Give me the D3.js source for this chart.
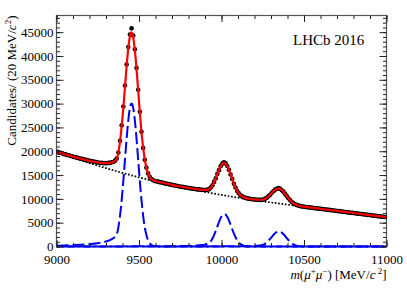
<!DOCTYPE html>
<html>
<head>
<meta charset="utf-8">
<script src="https://cdn.jsdelivr.net/npm/d3@7"></script>
<style>
  body { margin: 0; background: #fff; }
  text { font-family: "Liberation Serif", "Times New Roman", serif; }
</style>
</head>
<body>
<div id="chart"></div>
<script>
// dimuon mass spectrum, LHCb 2016

// data points (10 MeV bins, 9005 ... 10995)
const binCenters = d3.range(9005, 11000, 10);
const counts = [
  19880, 19700, 19690, 19560, 19390, 19350, 19200, 19160, 18990, 18950,
  18800, 18770, 18610, 18580, 18420, 18400, 18250, 18230, 18090, 18060,
  17930, 17920, 17790, 17770, 17650, 17640, 17540, 17560, 17480, 17510,
  17470, 17560, 17550, 17680, 17740, 18020, 18450, 19750, 22200, 25450,
  29400, 33800, 38200, 41900, 44500, 45800, 44300, 41400, 37500, 32900,
  28300, 24100, 20700, 18200, 16550, 15350, 14660, 14180, 13950, 13760,
  13680, 13630, 13510, 13470, 13350, 13300, 13190, 13150, 13040, 12990,
  12880, 12850, 12740, 12710, 12600, 12550, 12510, 12420, 12400, 12310,
  12250, 12230, 12140, 12120, 12030, 12000, 12000, 11930, 11930, 11870,
  11850, 11940, 12030, 12400, 12850, 13560, 14300, 15240, 16030, 16870,
  17400, 17700, 17450, 16900, 16100, 15130, 14190, 13180, 12380, 11660,
  11170, 10750, 10530, 10320, 10230, 10100, 10060, 9970, 9950, 9870,
  9880, 9820, 9830, 9780, 9830, 9860, 10050, 10240, 10570, 10880,
  11290, 11600, 11950, 12100, 12260, 12120, 11820, 11520, 11040, 10620,
  10120, 9760, 9370, 9130, 8870, 8740, 8590, 8530, 8420, 8390,
  8310, 8300, 8210, 8220, 8130, 8120, 8040, 8040, 7950, 7950,
  7870, 7860, 7780, 7770, 7690, 7680, 7600, 7600, 7510, 7510,
  7430, 7420, 7340, 7330, 7250, 7240, 7160, 7150, 7070, 7060,
  6990, 6980, 6900, 6890, 6810, 6800, 6720, 6710, 6630, 6620,
  6550, 6530, 6460, 6450, 6370, 6360, 6280, 6270, 6190, 6180
];

// total fit (red)
const fitMass = [9000, 9050, 9100, 9150, 9200, 9250, 9280,
  9300, 9310, 9320, 9330, 9340, 9350, 9360, 9370, 9380, 9390, 9400, 9410, 9420, 9430, 9440, 9450,
  9455,
  9460, 9470, 9480, 9490, 9500, 9510, 9520, 9530, 9540, 9550, 9560, 9570, 9580, 9590, 9600,
  9650, 9700, 9750, 9800, 9850,
  9900, 9910, 9920, 9930, 9940, 9950, 9960, 9970, 9980, 9990, 10000, 10010,
  10017,
  10020, 10030, 10040, 10050, 10060, 10070, 10080, 10090, 10100, 10110, 10120, 10130,
  10150, 10170, 10190,
  10200, 10210, 10220, 10230, 10240, 10250, 10260, 10270, 10280, 10290, 10300, 10310, 10320, 10330, 10340,
  10347,
  10350, 10360, 10370, 10380, 10390, 10400, 10410, 10420, 10430, 10440, 10450, 10460, 10470, 10480, 10490,
  10500, 10600, 10700, 10800, 10900, 11000];
const fitValues = [19900, 19380, 18870, 18415, 17990, 17650, 17520,
  17490, 17510, 17550, 17610, 17700, 17850, 18150, 18890, 20820, 23560, 27110, 31290, 35720, 39850, 43040, 44760,
  44940,
  44660, 42760, 39390, 35070, 30450, 26090, 22360, 19430, 17310, 15880, 14960, 14390, 14050, 13840, 13740,
  13330, 12940, 12590, 12300, 12030,
  11870, 11890, 11950, 12160, 12590, 13170, 13910, 14760, 15650, 16470, 17160, 17530,
  17580,
  17550, 17200, 16550, 15660, 14660, 13670, 12750, 11980, 11380, 10930, 10620, 10400,
  10150, 10020, 9910,
  9880, 9860, 9830, 9810, 9800, 9830, 9930, 10130, 10390, 10710, 11080, 11450, 11790, 12050, 12180,
  12190,
  12160, 12000, 11690, 11290, 10830, 10360, 9930, 9550, 9230, 8990, 8800, 8660, 8560, 8480, 8410,
  8360, 7910, 7470, 7030, 6590, 6150];

// combinatorial background (dotted)
const bkgMass = [9000, 9100, 9200, 9300, 9400, 9500, 9600, 9700, 9800, 9900, 10000,
  10100, 10200, 10300, 10400, 10500, 10600, 10700, 10800, 10900, 11000];
const bkgValues = [19720, 18580, 17490, 16450, 15450, 14520, 13650, 12850, 12120, 11450, 10830,
  10260, 9740, 9250, 8790, 8350, 7910, 7470, 7030, 6590, 6150];

// signal components (blue dashed)
const ups1Mass = [9000, 9050, 9100, 9150, 9200, 9250, 9280,
  9300, 9310, 9320, 9330, 9340, 9350, 9360, 9370, 9380, 9390, 9400, 9410, 9420, 9430, 9440, 9450,
  9455,
  9460, 9470, 9480, 9490, 9500, 9510, 9520, 9530, 9540, 9550, 9560, 9570, 9580, 9590,
  9600, 9620, 9650, 11000];
const ups1Values = [180, 230, 290, 380, 500, 680, 860,
  1040, 1160, 1300, 1460, 1650, 1900, 2300, 3140, 5170, 8010, 11660, 15930, 20460, 24680, 27960, 29770,
  30000,
  29770, 27960, 24680, 20460, 15930, 11660, 8010, 5170, 3140, 1790, 957, 481, 227, 101,
  42, 6, 0, 0];

const ups2Mass = [9000, 9400, 9600, 9750, 9850,
  9900, 9910, 9920, 9930, 9940, 9950, 9960, 9970, 9980, 9990, 10000, 10010,
  10017,
  10020, 10030, 10040, 10050, 10060, 10070, 10080, 10090, 10100, 10110, 10120, 10130,
  10150, 10170, 10200, 11000];
const ups2Values = [15, 25, 50, 90, 220,
  390, 470, 600, 878, 1368, 2020, 2825, 3742, 4696, 5584, 6289, 6710,
  6800,
  6784, 6496, 5894, 5065, 4124, 3182, 2325, 1610, 1055, 656, 386, 215,
  57, 12, 0, 0];

const ups3Mass = [9000, 9800, 10090, 10190,
  10230, 10240, 10250, 10260, 10270, 10280, 10290, 10300, 10310, 10320, 10330, 10340,
  10347,
  10350, 10360, 10370, 10380, 10390, 10400, 10410, 10420, 10430, 10440, 10450, 10460, 10470, 10480, 10490, 10500,
  10550, 11000];
const ups3Values = [10, 20, 55, 120,
  215, 260, 330, 486, 729, 1040, 1412, 1826, 2247, 2631, 2933, 3112,
  3150,
  3143, 3021, 2764, 2407, 1996, 1574, 1182, 845, 575, 372, 229, 135, 75, 40, 20, 9,
  0, 0];

const xMajor = [9000, 9500, 10000, 10500, 11000];
const yMajor = [0, 5000, 10000, 15000, 20000, 25000, 30000, 35000, 40000, 45000];

const width = 407;
const height = 294;
const plot = { left: 56.5, right: 386.5, top: 15.5, bottom: 246.5 };

const svg = d3.select('#chart')
    .append('svg')
    .attr('width', width)
    .attr('height', height);

svg.append('rect').attr('width', width).attr('height', height).attr('fill', '#fff');

const x = d3.scaleLinear()
    .domain([9000, 11000])
    .range([plot.left, plot.right]);

const y = d3.scaleLinear()
    .domain([0, 48500])
    .range([plot.bottom, plot.top]);

svg.append('clipPath').attr('id', 'clip')
    .append('rect')
    .attr('x', plot.left).attr('y', plot.top - 4)
    .attr('width', plot.right - plot.left).attr('height', plot.bottom - plot.top + 6);

// frame
svg.append('rect')
    .attr('x', plot.left).attr('y', plot.top)
    .attr('width', plot.right - plot.left).attr('height', plot.bottom - plot.top)
    .attr('fill', 'none').attr('stroke', '#555').attr('stroke-width', 1.2);

const line = (xs, vs) => d3.line().curve(d3.curveMonotoneX)
    .x((d, i) => x(xs[i])).y(d => y(d))(vs);

const g = svg.append('g').attr('clip-path', 'url(#clip)');

// signal peaks
[[ups1Mass, ups1Values, 0], [ups2Mass, ups2Values, 5], [ups3Mass, ups3Values, 10]].forEach(([m, v, off]) => {
    g.append('path')
        .attr('d', line(m, v))
        .attr('fill', 'none')
        .attr('stroke', '#0000ee')
        .attr('stroke-width', 2)
        .attr('stroke-dasharray', '12,4')
        .attr('stroke-dashoffset', off);
});

// background
g.append('path')
    .attr('d', line(bkgMass, bkgValues))
    .attr('fill', 'none')
    .attr('stroke', '#000')
    .attr('stroke-width', 1.7)
    .attr('stroke-dasharray', '1.7,1.7');

// data with error bars
g.append('g').selectAll('line')
    .data(counts)
    .join('line')
    .attr('x1', (d, i) => x(binCenters[i])).attr('x2', (d, i) => x(binCenters[i]))
    .attr('y1', d => y(d - Math.sqrt(d))).attr('y2', d => y(d + Math.sqrt(d)))
    .attr('stroke', '#000').attr('stroke-width', 1);

g.append('g').selectAll('circle')
    .data(counts)
    .join('circle')
    .attr('cx', (d, i) => x(binCenters[i]))
    .attr('cy', d => y(d))
    .attr('r', 2.3)
    .attr('fill', '#000');

// total fit
g.append('path')
    .attr('d', line(fitMass, fitValues))
    .attr('fill', 'none')
    .attr('stroke', '#ff0000')
    .attr('stroke-width', 2.2);

// axes, ticks inward
function styleAxis(sel) {
    sel.select('.domain').remove();
    sel.selectAll('line').attr('stroke', '#222');
    sel.selectAll('text')
        .attr('font-family', '"Liberation Serif", "Times New Roman", serif')
        .attr('font-size', 13)
        .attr('fill', '#000');
}

const xMinor = d3.range(9000, 11001, 100);
const yMinor = d3.range(0, 48501, 1000);

svg.append('g').attr('transform', `translate(0,${plot.bottom})`)
    .call(d3.axisBottom(x).tickValues(xMinor).tickSize(-3.5).tickFormat(''))
    .call(styleAxis);
svg.append('g').attr('transform', `translate(0,${plot.bottom})`)
    .call(d3.axisBottom(x).tickValues(xMajor).tickSize(-6.5).tickPadding(8).tickFormat(d3.format('d')))
    .call(styleAxis);
svg.append('g').attr('transform', `translate(0,${plot.top})`)
    .call(d3.axisTop(x).tickValues(xMinor).tickSize(-3.5).tickFormat(''))
    .call(styleAxis);
svg.append('g').attr('transform', `translate(0,${plot.top})`)
    .call(d3.axisTop(x).tickValues(xMajor).tickSize(-6.5).tickFormat(''))
    .call(styleAxis);

svg.append('g').attr('transform', `translate(${plot.left},0)`)
    .call(d3.axisLeft(y).tickValues(yMinor).tickSize(-3.5).tickFormat(''))
    .call(styleAxis);
svg.append('g').attr('transform', `translate(${plot.left},0)`)
    .call(d3.axisLeft(y).tickValues(yMajor).tickSize(-7).tickPadding(3).tickFormat(d3.format('d')))
    .call(styleAxis);
svg.append('g').attr('transform', `translate(${plot.right},0)`)
    .call(d3.axisRight(y).tickValues(yMinor).tickSize(-3.5).tickFormat(''))
    .call(styleAxis);
svg.append('g').attr('transform', `translate(${plot.right},0)`)
    .call(d3.axisRight(y).tickValues(yMajor).tickSize(-7).tickFormat(''))
    .call(styleAxis);

// titles
const xt = svg.append('text')
    .attr('x', plot.right).attr('y', 278.5)
    .attr('text-anchor', 'end').attr('font-size', 13);
xt.append('tspan').attr('font-style', 'italic').text('m');
xt.append('tspan').text('(');
xt.append('tspan').attr('font-style', 'italic').text('μ');
xt.append('tspan').attr('font-size', 9).attr('dy', -5).text('+');
xt.append('tspan').attr('font-style', 'italic').attr('dy', 5).text('μ');
xt.append('tspan').attr('font-size', 9).attr('dy', -5).text('−');
xt.append('tspan').attr('dy', 5).text(') [MeV/');
xt.append('tspan').attr('font-style', 'italic').text('c');
xt.append('tspan').attr('font-size', 9).attr('dy', -5).text(' 2');
xt.append('tspan').attr('dy', 5).text(']');

const yt = svg.append('text')
    .attr('transform', `translate(15.5,${plot.top}) rotate(-90)`)
    .attr('text-anchor', 'end').attr('font-size', 13);
yt.append('tspan').text('Candidates/ (20 MeV/');
yt.append('tspan').attr('font-style', 'italic').text('c');
yt.append('tspan').attr('font-size', 9).attr('dy', -5).text('2');
yt.append('tspan').attr('dy', 5).text(')');

svg.append('text')
    .attr('x', 293).attr('y', 44.5)
    .attr('font-size', 15)
    .text('LHCb 2016');
</script>
</body>
</html>
